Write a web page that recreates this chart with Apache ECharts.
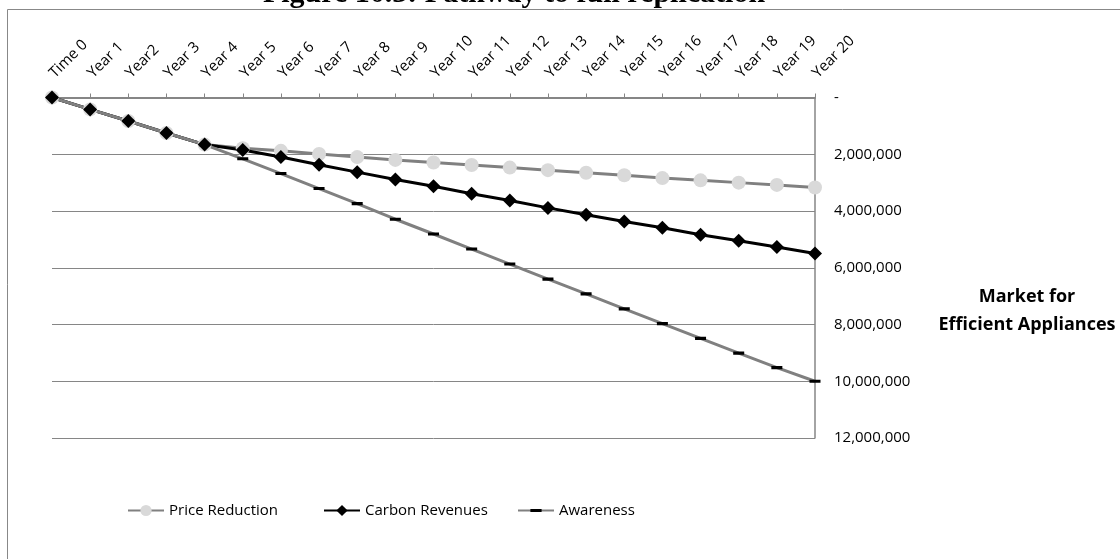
<!DOCTYPE html>
<html>
<head>
<meta charset="utf-8">
<script src="https://cdn.jsdelivr.net/npm/echarts@6/dist/echarts.min.js"></script>
<style>
html,body{margin:0;padding:0;background:#fff;}
#chart{width:1120px;height:559px;}
</style>
</head>
<body>
<div id="chart"></div>
<script>
var categories = ['Time 0','Year 1','Year2','Year 3','Year 4','Year 5','Year 6','Year 7','Year 8','Year 9','Year 10','Year 11','Year 12','Year 13','Year 14','Year 15','Year 16','Year 17','Year 18','Year 19','Year 20'];
var priceReduction = [0, 420000, 830000, 1250000, 1660000, 1790000, 1880000, 1990000, 2100000, 2200000, 2290000, 2380000, 2470000, 2560000, 2650000, 2740000, 2840000, 2920000, 3000000, 3080000, 3170000];
var carbonRevenues = [0, 420000, 830000, 1250000, 1660000, 1850000, 2100000, 2370000, 2630000, 2890000, 3130000, 3390000, 3630000, 3890000, 4130000, 4370000, 4590000, 4840000, 5050000, 5270000, 5500000];
var awareness = [0, 420000, 830000, 1250000, 1660000, 2160000, 2680000, 3210000, 3740000, 4290000, 4810000, 5340000, 5870000, 6400000, 6920000, 7450000, 7970000, 8490000, 9010000, 9520000, 10000000];
var yTicks = {min: 0, max: 12000000, interval: 2000000};
var titleText = 'Figure 10.3: Pathway to full replication';
var axisTitle = 'Market for\nEfficient Appliances';

var chart = echarts.init(document.getElementById('chart'));
var font = 'Open Sans';
var dashSymbol = 'path://M0,0 L0.01,0 L0,0.01 Z M10,10 L9.99,10 L10,9.99 Z M0,3.6 L10,3.6 L10,6.4 L0,6.4 Z';
function legendFor(name, left) {
  return {
    data: [name], left: left, top: 503, padding: 0, itemWidth: 36, itemHeight: 14, itemGap: 4,
    textStyle: {fontFamily: font, fontSize: 15, color: '#000'}
  };
}
chart.setOption({
  backgroundColor: '#fff',
  animation: false,
  graphic: [
    {type: 'rect', shape: {x: 7.5, y: 9.5, width: 1300, height: 700}, style: {fill: 'none', stroke: '#888', lineWidth: 1}, silent: true, z: -10},
    {type: 'text', x: 514, y: 9, style: {text: titleText, font: 'bold 30px "Liberation Serif"', fill: '#000', align: 'center', verticalAlign: 'bottom'}},
    {type: 'text', x: 1027, y: 311, style: {text: axisTitle, font: 'bold 18px "Open Sans"', fill: '#000', align: 'center', verticalAlign: 'middle', lineHeight: 28}}
  ],
  grid: {left: 52, right: 305, top: 97.5, bottom: 121},
  legend: [legendFor('Price Reduction', 127), legendFor('Carbon Revenues', 323), legendFor('Awareness', 517)],
  xAxis: {
    type: 'category', position: 'top', boundaryGap: false, data: categories,
    axisLine: {lineStyle: {color: '#868686', width: 2}},
    axisTick: {show: true, length: 4, lineStyle: {color: '#868686'}},
    axisLabel: {rotate: 45, interval: 0, margin: 22, fontFamily: font, fontSize: 15, color: '#000'},
    splitLine: {show: false}
  },
  yAxis: {
    type: 'value', position: 'right', inverse: true,
    min: yTicks.min, max: yTicks.max, interval: yTicks.interval,
    axisLine: {show: true, lineStyle: {color: '#868686', width: 1.5}},
    axisTick: {show: false},
    axisLabel: {margin: 19, fontFamily: font, fontSize: 15, color: '#000',
      formatter: function (v) { return v === 0 ? '-' : v.toLocaleString('en-US'); }},
    splitLine: {show: true, lineStyle: {color: '#868686', width: 1}}
  },
  series: [
    {name: 'Price Reduction', type: 'line', data: priceReduction, symbol: 'circle', symbolSize: 14,
      lineStyle: {color: '#808080', width: 3}, itemStyle: {color: '#d9d9d9', borderWidth: 0}},
    {name: 'Carbon Revenues', type: 'line', data: carbonRevenues, symbol: 'diamond', symbolSize: 14,
      lineStyle: {color: '#000', width: 3}, itemStyle: {color: '#000'}},
    {name: 'Awareness', type: 'line', data: awareness, symbol: dashSymbol, symbolSize: 11,
      lineStyle: {color: '#808080', width: 3}, itemStyle: {color: '#000'}}
  ]
});
</script>
</body>
</html>
